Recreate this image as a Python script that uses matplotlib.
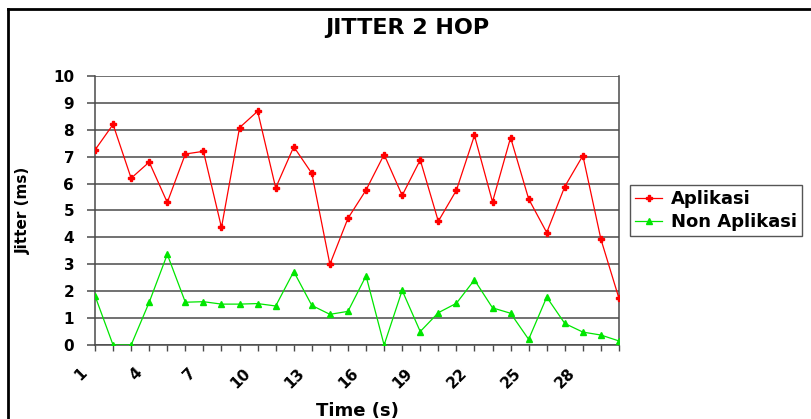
import matplotlib
matplotlib.use('Agg')
import matplotlib.pyplot as plt
from matplotlib.lines import Line2D
from matplotlib.transforms import ScaledTranslation

# jitter per detik, 2 hop
waktu = list(range(1, 31))
aplikasi = [7.25, 8.2, 6.2, 6.8, 5.3, 7.1, 7.2, 4.37, 8.08, 8.69,
            5.84, 7.37, 6.38, 3.0, 4.71, 5.76, 7.08, 5.56, 6.88, 4.6,
            5.75, 7.79, 5.32, 7.71, 5.43, 4.18, 5.89, 7.04, 3.93, 1.73]
non_aplikasi = [1.83, 0.0, 0.0, 1.59, 3.37, 1.59, 1.61, 1.52, 1.52, 1.54,
                1.45, 2.73, 1.47, 1.14, 1.25, 2.57, 0.0, 2.03, 0.5, 1.2,
                1.55, 2.42, 1.38, 1.18, 0.21, 1.78, 0.8, 0.48, 0.37, 0.15]
label_x = ['1', '4', '7', '10', '13', '16', '19', '22', '25', '28']

plt.rcParams['font.family'] = ['DejaVu Sans']
plt.rcParams['font.weight'] = 'bold'

W, H = 812, 419
fig = plt.figure(figsize=(W / 100, H / 100), dpi=100)
ax = fig.add_axes([95 / W, 1 - 345 / H, (619 - 95) / W, (345 - 76) / H])

ax.plot(waktu, aplikasi, color='#ff0000', lw=0.9, marker='P', ms=4.5,
        mec='#ff0000', mfc='#ff0000', label='Aplikasi', zorder=3)
ax.plot(waktu, non_aplikasi, color='#00e600', lw=0.9, marker='^', ms=4.5,
        mec='#00e600', mfc='#00e600', label='Non Aplikasi', zorder=3)

ax.set_xlim(1, 30)
ax.set_ylim(0, 10)
ax.set_yticks(range(0, 11))
ax.grid(axis='y', color='#4a4a4a', lw=1.1)
ax.set_axisbelow(True)

ax.tick_params(axis='x', length=4.5, width=1, color='#4a4a4a', pad=13)
ax.tick_params(axis='y', length=6, width=1.1, color='#4a4a4a', pad=9,
               labelsize=11)
ax.set_xticks(waktu)
ax.set_xticklabels([str(t) if str(t) in label_x else '' for t in waktu],
                   rotation=45, ha='right', va='top', rotation_mode='anchor',
                   fontsize=11, fontweight='bold')
# label sumbu x digeser sedikit ke kiri-atas
geser = ScaledTranslation(-11 / 72, 3 / 72, fig.dpi_scale_trans)
for lbl in ax.get_xticklabels():
    lbl.set_transform(lbl.get_transform() + geser)
for lbl in ax.get_yticklabels():
    lbl.set_fontweight('bold')

for side in ['left', 'bottom', 'right']:
    ax.spines[side].set_color('#4a4a4a')
    ax.spines[side].set_linewidth(1.1)
ax.spines['top'].set_visible(False)

ax.set_xlabel('Time (s)', fontsize=13, fontweight='bold')
ax.xaxis.set_label_coords(0.5, (345 - 402) / (345 - 76))
ax.set_ylabel('Jitter (ms)', fontsize=11, fontweight='bold', labelpad=16)
fig.text(407 / W, 1 - 28 / H, 'JITTER 2 HOP', ha='center', va='center',
         fontsize=16, fontweight='bold')

leg = ax.legend(loc='upper left', bbox_to_anchor=(630 / W, 1 - 185 / H),
                bbox_transform=fig.transFigure, borderaxespad=0,
                fancybox=False, frameon=True,
                edgecolor='#555555', framealpha=1, borderpad=0.3,
                handlelength=1.5, handletextpad=0.45, labelspacing=0.25,
                prop={'size': 13, 'weight': 'bold'})
leg.get_frame().set_linewidth(1.0)

# bingkai luar chart
fig.add_artist(Line2D([8.5 / W, 1.0], [1 - 9 / H, 1 - 9 / H],
                      transform=fig.transFigure, color='black', lw=2))
fig.add_artist(Line2D([8.5 / W, 8.5 / W], [1 - 9 / H, 0.0],
                      transform=fig.transFigure, color='black', lw=2))

fig.savefig('out.png', dpi=100)
